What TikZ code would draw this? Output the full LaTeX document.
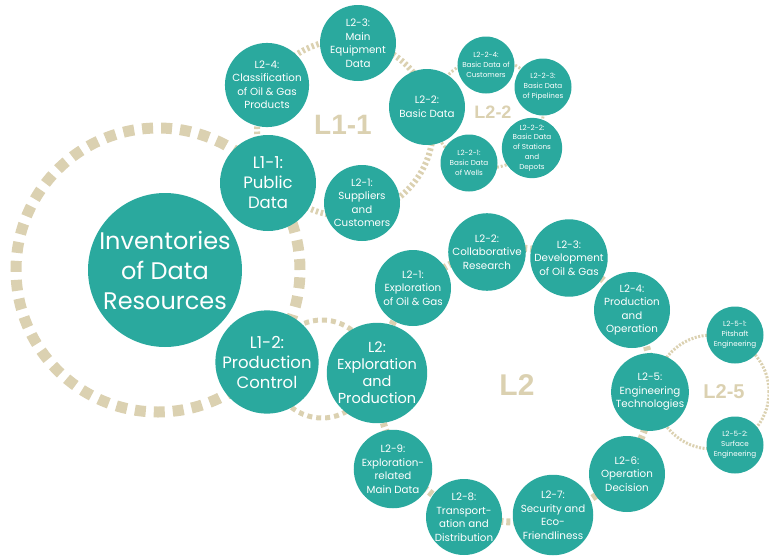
\documentclass[tikz,border=0pt]{standalone}
\usepackage{fontspec}
\setmainfont{Poppins}
\newfontfamily\tagfont{Liberation Sans}
\definecolor{bubteal}{HTML}{2AA99E}
\definecolor{sand}{HTML}{DBD1B1}

\begin{document}
\begin{tikzpicture}[x=1pt,y=-1pt,
	bub/.style={circle,fill=bubteal,text=white,align=center,inner sep=0pt},
	hub/.style={bub,minimum size=154pt,font=\fontsize{24}{30}\selectfont},
	lone/.style={bub,minimum size=96pt,font=\fontsize{16.5}{20}\selectfont},
	lsub/.style={bub,minimum size=76pt,font=\fontsize{10.3}{13.5}\selectfont},
	lsubsub/.style={bub,minimum size=57pt,font=\fontsize{7.2}{9.8}\selectfont},
	ring/.style={draw=sand,line width=#1},
	tag/.style={text=sand,font=\tagfont\bfseries\fontsize{#1}{#1}\selectfont}]

\useasboundingbox (0,0) rectangle (769,555);

\coordinate (c0)   at (158,270);
\coordinate (c11)  at (345,128);
\coordinate (c12)  at (322,369);
\coordinate (c22)  at (488,113);
\coordinate (c2)   at (515,385);
\coordinate (c25)  at (712,392);

\draw[ring=11pt,dash pattern=on 11pt off 8pt]	(c0)  circle (142pt);
\draw[ring=6pt,dash pattern=on 2.5pt off 2.5pt]	(c11) circle (88pt);
\draw[ring=5pt,dash pattern=on 5pt off 4pt]	(c12) circle (49pt);
\draw[ring=3pt,dash pattern=on 2pt off 2pt]	(c22) circle (55pt);
\draw[ring=7pt,dash pattern=on 4pt off 3pt]	(c2)  circle (137pt);
\draw[ring=3pt,dash pattern=on 2pt off 1.5pt]	(c25) circle (57pt);

\node[hub]	(inv)	at (165,270)	{Inventories\\of Data\\Resources};

\node[lone]	(pub)	at (268,183)	{L1-1:\\Public\\Data};
\node[lone]	(ctrl)	at (267,362)	{L1-2:\\Production\\Control};
\node[lone,minimum size=100pt,font=\fontsize{14.5}{17}\selectfont]
		(ep)	at (377,373)	{L2:\\Exploration\\and\\Production};

\node[lsub]	(cls)	at (267,85)	{L2-4:\\Classification\\of Oil \& Gas\\Products};
\node[lsub]	(equip)	at (358,43)	{L2-3:\\Main\\Equipment\\Data};
\node[lsub]	(basic)	at (427,107)	{L2-2:\\Basic Data};
\node[lsub]	(supp)	at (362,203)	{L2-1:\\Suppliers\\and\\Customers};

\node[lsubsub]	(cust)	at (486,65)	{L2-2-4:\\Basic Data of\\Customers};
\node[lsubsub]	(pipe)	at (543,87)	{L2-2-3:\\Basic Data\\of Pipelines};
\node[lsubsub]	(stat)	at (532,148)	{L2-2-2:\\Basic Data\\of Stations\\and\\Depots};
\node[lsubsub]	(wells)	at (469,163)	{L2-2-1:\\Basic Data\\of Wells};

\node[lsub]	(expl)	at (413,288)	{L2-1:\\Exploration\\of Oil \& Gas};
\node[lsub]	(collab)	at (487,252)	{L2-2:\\Collaborative\\Research};
\node[lsub]	(devel)	at (569,258)	{L2-3:\\Development\\of Oil \& Gas};
\node[lsub]	(prodop)	at (632,310)	{L2-4:\\Production\\and\\Operation};
\node[lsub]	(eng)	at (650,392)	{L2-5:\\Engineering\\Technologies};
\node[lsub]	(opdec)	at (627,474)	{L2-6:\\Operation\\Decision};
\node[lsub]	(secu)	at (553,515)	{L2-7:\\Security and\\Eco-\\Friendliness};
\node[lsub]	(transp)	at (464,517)	{L2-8:\\Transport-\\ation and\\Distribution};
\node[lsub]	(exrel)	at (393,469)	{L2-9:\\Exploration-\\related\\Main Data};

\node[lsubsub]	(pit)	at (735,335)	{L2-5-1:\\Pitshaft\\Engineering};
\node[lsubsub]	(surf)	at (735,445)	{L2-5-2:\\Surface\\Engineering};

\node[tag=28]	(t11)	at (343,125)	{L1-1};
\node[tag=18]	(t22)	at (493,112)	{L2-2};
\node[tag=30]	(t2)	at (517,385)	{L2};
\node[tag=20]	(t25)	at (724,392)	{L2-5};
\end{tikzpicture}
\end{document}
